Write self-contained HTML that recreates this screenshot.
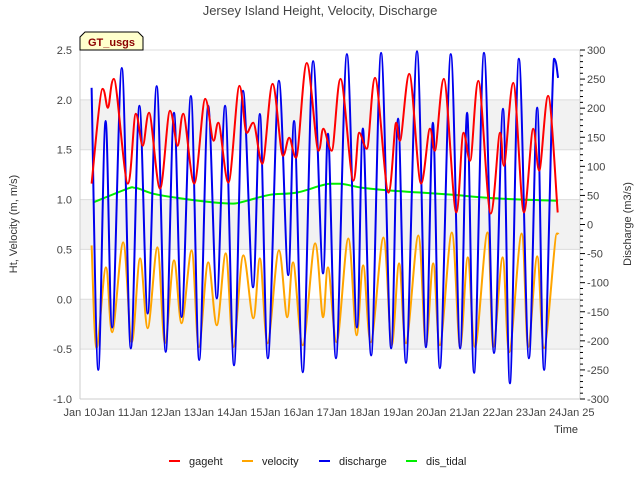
<!DOCTYPE html>
<html><head><meta charset="utf-8"><style>
body{margin:0;background:#fff;}
svg text{font-family:"Liberation Sans","DejaVu Sans",sans-serif;}
</style></head><body>
<svg id="chart" width="640" height="480" viewBox="0 0 640 480" xmlns="http://www.w3.org/2000/svg">
<rect width="640" height="480" fill="#fff"/>
<g id="bands"></g>
<g id="grid"></g>
<g id="axes"></g>
<g id="series"></g>
<text x="320" y="15" text-anchor="middle" font-size="13" fill="#444">Jersey Island Height, Velocity, Discharge</text>
<text transform="translate(17,224) rotate(-90)" text-anchor="middle" font-size="11" fill="#333">Ht, Velocity (m, m/s)</text>
<text transform="translate(631,224) rotate(-90)" text-anchor="middle" font-size="11" fill="#333">Discharge (m3/s)</text>
<text x="578" y="433" text-anchor="end" font-size="11" fill="#333">Time</text>
<g>
<path d="M80,50 L80,37 L85,32 L138,32 L143,37 L143,50 Z" fill="#ffffcc" stroke="#000" stroke-width="1"/>
<text x="111.5" y="46" text-anchor="middle" font-size="11" font-weight="bold" fill="#8b0000">GT_usgs</text>
</g>
<g id="legend"></g>
</svg>
<script>
const dayLabels=["Jan 10","Jan 11","Jan 12","Jan 13","Jan 14","Jan 15","Jan 16","Jan 17","Jan 18","Jan 19","Jan 20","Jan 21","Jan 22","Jan 23","Jan 24","Jan 25"];
const leftTicks=[2.5,2.0,1.5,1.0,0.5,0.0,-0.5,-1.0];
const rightTicks=[300,250,200,150,100,50,0,-50,-100,-150,-200,-250,-300];
const gagehtT=[0.35,0.68,0.84,1.02,1.44,1.68,1.89,2.08,2.41,2.71,2.94,3.11,3.44,3.77,4.02,4.17,4.47,4.80,5.02,5.22,5.49,5.80,6.11,6.30,6.51,6.83,7.18,7.33,7.58,7.85,8.23,8.41,8.64,8.89,9.29,9.52,9.64,9.92,10.27,10.54,10.69,10.96,11.33,11.55,11.75,12.00,12.37,12.65,12.77,13.05,13.37,13.65,13.83,14.10,14.39];
const gagehtV=[1.16,2.11,1.92,2.21,1.16,1.86,1.54,1.87,1.11,1.89,1.54,1.86,1.16,2.01,1.59,1.77,1.17,2.14,1.67,1.77,1.36,2.16,1.44,1.62,1.42,2.37,1.49,1.71,1.49,2.21,1.19,1.67,1.51,2.22,1.07,1.77,1.59,2.26,1.16,1.71,1.49,2.21,0.87,1.67,1.39,2.19,0.86,1.67,1.34,2.17,0.87,1.71,1.29,2.04,0.87];
const velocityT=[0.35,0.50,0.78,0.97,1.30,1.56,1.81,2.04,2.33,2.56,2.83,3.06,3.36,3.58,3.86,4.12,4.39,4.62,4.92,5.22,5.42,5.65,5.99,6.24,6.42,6.71,7.08,7.32,7.47,7.73,8.08,8.33,8.53,8.76,9.14,9.39,9.61,9.82,10.19,10.42,10.64,10.84,11.20,11.45,11.68,11.90,12.27,12.45,12.73,12.93,13.30,13.50,13.77,13.98,14.36,14.40];
const velocityV=[0.54,-0.49,0.32,-0.33,0.57,-0.43,0.41,-0.29,0.52,-0.44,0.39,-0.24,0.49,-0.48,0.37,-0.26,0.46,-0.48,0.44,-0.19,0.41,-0.44,0.49,-0.18,0.37,-0.46,0.56,-0.18,0.32,-0.43,0.61,-0.36,0.34,-0.43,0.62,-0.46,0.36,-0.44,0.64,-0.46,0.36,-0.46,0.67,-0.48,0.42,-0.48,0.67,-0.48,0.42,-0.53,0.66,-0.48,0.43,-0.49,0.66,0.65];
const dischargeT=[0.35,0.55,0.77,0.97,1.26,1.53,1.79,2.04,2.31,2.58,2.83,3.06,3.34,3.59,3.86,4.12,4.37,4.64,4.91,5.21,5.42,5.66,5.99,6.27,6.45,6.71,7.02,7.32,7.47,7.71,8.04,8.34,8.52,8.77,9.07,9.37,9.58,9.82,10.15,10.42,10.63,10.84,11.17,11.45,11.66,11.87,12.17,12.47,12.74,12.95,13.22,13.52,13.77,13.98,14.28,14.40];
const dischargeV=[235,-250,178,-177,269,-213,204,-153,238,-219,192,-159,221,-233,204,-127,204,-242,230,-108,190,-230,247,-87,178,-254,281,-84,156,-230,293,-177,165,-225,295,-213,182,-238,298,-211,175,-247,293,-213,192,-255,295,-221,199,-273,285,-230,201,-250,285,252];
const tidalT=[0.40,1.45,1.66,2.20,3.01,4.01,4.61,5.03,5.72,6.54,7.53,7.83,8.52,9.43,10.24,11.23,12.26,13.25,14.40];
const tidalV=[38,62,63,53,45,38,36,41,51,55,70,70,63,58,55,51,46,43,41];

const X0=80,X1=578,Y0=50,Y1=399;
const xs=t=>X0+(X1-X0)*t/15;
const yl=v=>Y0+(2.5-v)/3.5*(Y1-Y0);
const yr=v=>Y0+(300-v)/600*(Y1-Y0);
const NS="http://www.w3.org/2000/svg";
function mk(tag,attrs,parent){const e=document.createElementNS(NS,tag);for(const k in attrs)e.setAttribute(k,attrs[k]);parent.appendChild(e);return e;}
const bands=document.getElementById('bands'),grid=document.getElementById('grid'),axes=document.getElementById('axes'),series=document.getElementById('series'),legend=document.getElementById('legend');
[[2.0,1.5],[1.0,0.5],[0.0,-0.5]].forEach(b=>{
 const r=mk('rect',{x:X0,y:yl(b[0]),width:X1-X0+2,height:yl(b[1])-yl(b[0]),fill:'#f2f2f2'},bands);
 
 
});
leftTicks.forEach(v=>{
 const l=mk('line',{x1:X0,x2:X1+2,y1:yl(v),y2:yl(v),stroke:'#dcdcdc','stroke-width':1},grid);
 
 
 const t=mk('text',{x:X0-8,y:yl(v)+4,'text-anchor':'end','font-size':11,fill:'#444'},axes);
 t.textContent=v.toFixed(1);
 
 
});
mk('line',{x1:X0,x2:X0,y1:Y0,y2:Y1,stroke:'#ccc'},axes);
mk('line',{x1:X1+2,x2:X1+2,y1:Y0,y2:Y1,stroke:'#ccc'},axes);
mk('line',{x1:X0,x2:X1+2,y1:Y1,y2:Y1,stroke:'#ccc'},axes);
for(let v=-300;v<=300;v+=10){
 mk('line',{x1:X1+2,x2:X1+(v%50===0?7:5),y1:yr(v),y2:yr(v),stroke:'#000','stroke-width':1},axes);
}
rightTicks.forEach(v=>{
 const t=mk('text',{x:X1+9,y:yr(v)+4,'font-size':11,fill:'#444'},axes);
 t.textContent=v;
 
 
});
dayLabels.forEach((d,i)=>{
 const t=mk('text',{x:xs(i),y:Y1+17,'text-anchor':'middle','font-size':11,fill:'#444'},axes);
 t.textContent=d;
 
 
});
function tangent(pts,i){
 const p0=pts[Math.max(0,i-1)],p1=pts[i],p2=pts[Math.min(pts.length-1,i+1)];
 if((p1[1]-p0[1])*(p2[1]-p1[1])<=0 && i>0 && i<pts.length-1) return [(p2[0]-p0[0]),0];
 return [p2[0]-p0[0],p2[1]-p0[1]];
}
function smooth(pts){
 if(!pts.length) return '';
 let d='M'+pts[0][0].toFixed(1)+','+pts[0][1].toFixed(1);
 for(let i=0;i<pts.length-1;i++){
  const p1=pts[i],p2=pts[i+1];
  const t1=tangent(pts,i),t2=tangent(pts,i+1);
  const c1=[p1[0]+t1[0]/6,p1[1]+t1[1]/6];
  const c2=[p2[0]-t2[0]/6,p2[1]-t2[1]/6];
  d+=' C'+c1.map(n=>n.toFixed(1)).join(',')+' '+c2.map(n=>n.toFixed(1)).join(',')+' '+p2[0].toFixed(1)+','+p2[1].toFixed(1);
 }
 return d;
}
function draw(T,V,yf,color,name){
 const pts=T.map((t,i)=>[xs(t),yf(V[i])]);
 const p=mk('path',{d:smooth(pts),fill:'none',stroke:color,'stroke-width':2},series);
 
 
}
draw(tidalT,tidalV,yr,'#00ee00','dis-tidal-line');
draw(velocityT,velocityV,yl,'#ffa500','velocity-line');
draw(dischargeT,dischargeV,yr,'#0000ee','discharge-line');
draw(gagehtT,gagehtV,yl,'#ff0000','gageht-line');
[['gageht','#ff0000',169],['velocity','#ffa500',242],['discharge','#0000ee',319],['dis_tidal','#00ee00',406]].forEach(e=>{
 const g=mk('g',{},legend);
 
 
 mk('line',{x1:e[2],x2:e[2]+11,y1:461,y2:461,stroke:e[1],'stroke-width':2},g);
 const t=mk('text',{x:e[2]+20,y:465,'font-size':11,fill:'#222'},g);
 t.textContent=e[0];
});
</script>
</body></html>
